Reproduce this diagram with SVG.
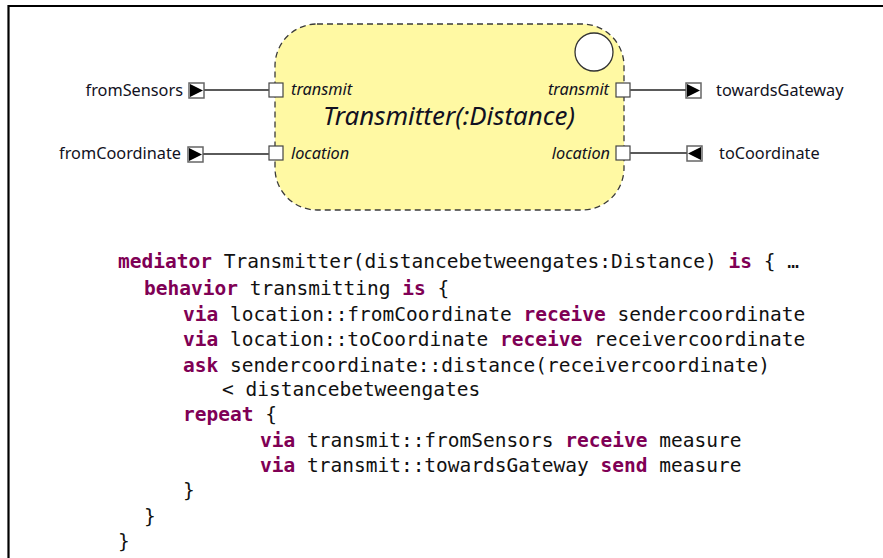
<svg xmlns="http://www.w3.org/2000/svg" width="883" height="558" viewBox="0 0 883 558">
  <style>
    .lbl { font-family: "Noto Sans", "Open Sans", "DejaVu Sans", sans-serif; font-size: 16.3px; fill: #111122; }
    .ital { font-family: "Noto Sans", "Open Sans", "DejaVu Sans", sans-serif; font-style: italic; font-size: 16.3px; fill: #111122; }
    .title { font-family: "Noto Sans", "Open Sans", "DejaVu Sans", sans-serif; font-style: italic; font-size: 25px; fill: #111122; }
    .code { font-family: "DejaVu Sans Mono", "Liberation Mono", monospace; font-size: 19.5px; fill: #111; }
    .kw { font-weight: bold; fill: #7f0055; }
    .port { fill: #fff; stroke: #444; stroke-width: 1.2; }
    .ext { fill: #fff; stroke: #666; stroke-width: 1.5; }
    .tri { fill: #000; }
    .wire { stroke: #5a5a5a; stroke-width: 2; fill: none; }
  </style>

  <!-- frame -->
  <path d="M8.5 558 V6 H883" fill="none" stroke="#000" stroke-width="2.2"/>

  <!-- mediator component -->
  <g id="transmitter">
    <rect x="275" y="24" width="349" height="186" rx="42" ry="42" fill="#fff9a3" stroke="#3a3a3a" stroke-width="1.3" stroke-dasharray="6 4"/>
    <circle cx="594" cy="52" r="19" fill="#fff" stroke="#333" stroke-width="1.3"/>
    <text class="title" x="323" y="125" textLength="252" lengthAdjust="spacingAndGlyphs">Transmitter(:Distance)</text>
  </g>

  <!-- inner ports -->
  <g id="port-transmit-in">
    <rect class="port" x="269" y="83" width="14" height="14"/>
    <text class="ital" x="291" y="95">transmit</text>
  </g>
  <g id="port-location-in">
    <rect class="port" x="269" y="146" width="14" height="14"/>
    <text class="ital" x="291" y="159">location</text>
  </g>
  <g id="port-transmit-out">
    <rect class="port" x="616" y="83" width="14" height="14"/>
    <text class="ital" x="609" y="95" text-anchor="end">transmit</text>
  </g>
  <g id="port-location-out">
    <rect class="port" x="616" y="146" width="14" height="14"/>
    <text class="ital" x="610" y="159" text-anchor="end">location</text>
  </g>

  <!-- external connections -->
  <g id="fromSensors">
    <rect class="ext" x="189" y="83" width="15" height="15"/>
    <path class="tri" d="M190 84 L203 90.5 L190 97 Z"/>
    <text class="lbl" x="183" y="96" text-anchor="end">fromSensors</text>
  </g>
  <g id="fromCoordinate">
    <rect class="ext" x="188" y="147" width="15" height="15"/>
    <path class="tri" d="M189 148 L202 154.5 L189 161 Z"/>
    <text class="lbl" x="181" y="159" text-anchor="end">fromCoordinate</text>
  </g>
  <g id="towardsGateway">
    <rect class="ext" x="686" y="83" width="15" height="15"/>
    <path class="tri" d="M687 84 L700 90.5 L687 97 Z"/>
    <text class="lbl" x="716" y="96">towardsGateway</text>
  </g>
  <g id="toCoordinate">
    <rect class="ext" x="687" y="146" width="15" height="15"/>
    <path class="tri" d="M701 147 L688 153.5 L701 160 Z"/>
    <text class="lbl" x="719" y="159">toCoordinate</text>
  </g>

  <g id="connectors">
    <line class="wire" x1="204" y1="90" x2="269" y2="90"/>
    <line class="wire" x1="203" y1="154" x2="269" y2="154"/>
    <line class="wire" x1="630" y1="90" x2="686" y2="90"/>
    <line class="wire" x1="630" y1="153" x2="687" y2="153"/>
  </g>

  <!-- behaviour listing -->
  <g id="code" class="code" xml:space="preserve">
    <text x="118" y="268"><tspan class="kw">mediator</tspan> Transmitter(distancebetweengates:Distance) <tspan class="kw">is</tspan> { …</text>
    <text x="144" y="295"><tspan class="kw">behavior</tspan> transmitting <tspan class="kw">is</tspan> {</text>
    <text x="183" y="321"><tspan class="kw">via</tspan> location::fromCoordinate <tspan class="kw">receive</tspan> sendercoordinate</text>
    <text x="183" y="346"><tspan class="kw">via</tspan> location::toCoordinate <tspan class="kw">receive</tspan> receivercoordinate</text>
    <text x="183" y="372"><tspan class="kw">ask</tspan> sendercoordinate::distance(receivercoordinate)</text>
    <text x="222" y="396">&lt; distancebetweengates</text>
    <text x="183" y="421"><tspan class="kw">repeat</tspan> {</text>
    <text x="260" y="447"><tspan class="kw">via</tspan> transmit::fromSensors <tspan class="kw">receive</tspan> measure</text>
    <text x="260" y="472"><tspan class="kw">via</tspan> transmit::towardsGateway <tspan class="kw">send</tspan> measure</text>
    <text x="183" y="497">}</text>
    <text x="144" y="523">}</text>
    <text x="118" y="548">}</text>
  </g>
</svg>
